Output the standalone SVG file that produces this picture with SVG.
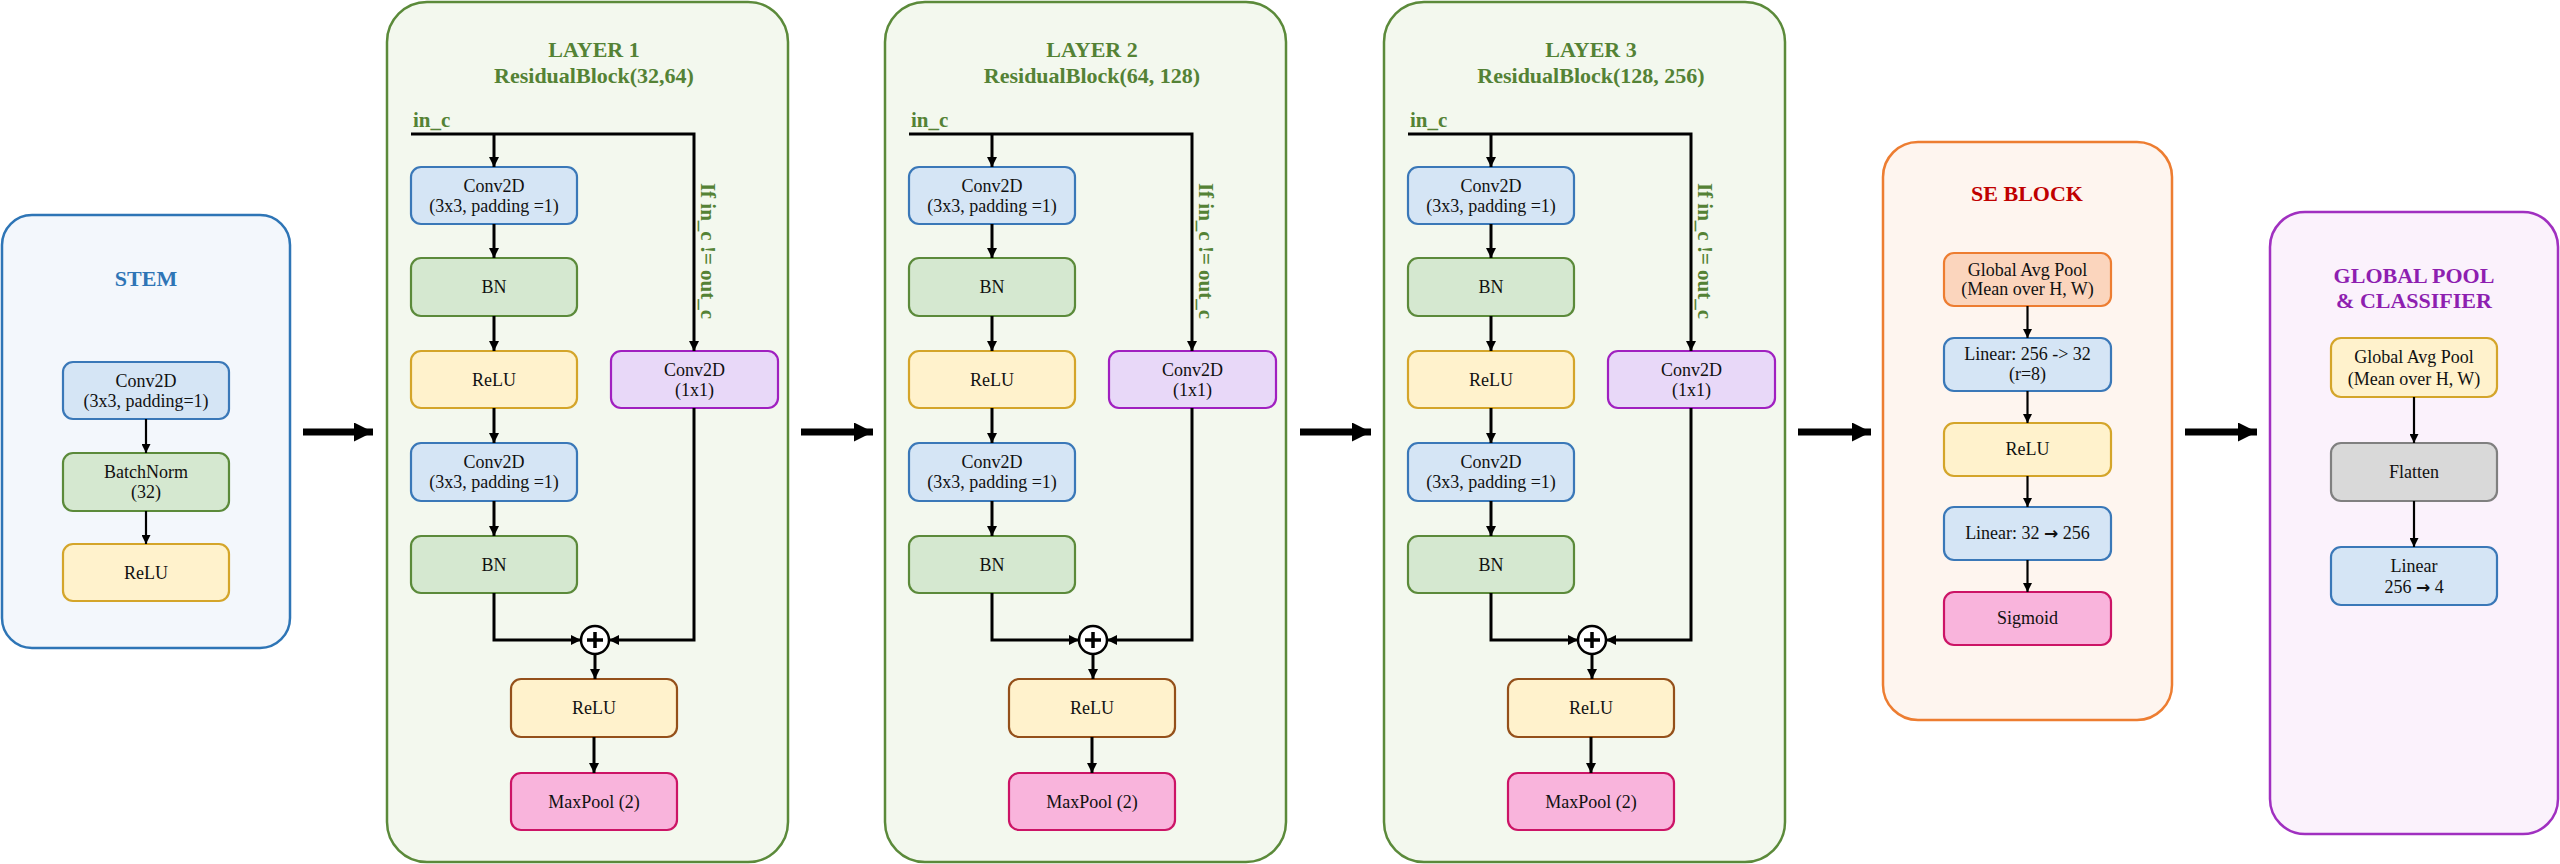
<svg xmlns="http://www.w3.org/2000/svg" width="2560" height="864" viewBox="0 0 2560 864">
<defs>
<marker id="ah" markerUnits="userSpaceOnUse" markerWidth="11" markerHeight="10" refX="10" refY="5" orient="auto"><path d="M0,0 L10,5 L0,10 z" fill="#000"/></marker>
<marker id="ahs" markerUnits="userSpaceOnUse" markerWidth="10" markerHeight="9" refX="9" refY="4.5" orient="auto"><path d="M0,0 L9,4.5 L0,9 z" fill="#000"/></marker>
<marker id="big" markerUnits="userSpaceOnUse" markerWidth="20" markerHeight="20" refX="19" refY="9.5" orient="auto"><path d="M0,0 L19,9.5 L0,19 z" fill="#000"/></marker>
<style>
text{font-family:"Liberation Serif","Times New Roman",serif;text-anchor:middle;fill:#111}
.t{font-size:18px}
.h{font-size:22px;font-weight:bold}
.g{fill:#548235}
.arr{font-family:"DejaVu Sans",sans-serif;font-weight:bold;font-size:17px}
.lay{fill:#F3F8EE;stroke:#5B8A3A;stroke-width:2.5}
.blue{fill:#D5E5F5;stroke:#3A78B8;stroke-width:2.2}
.green{fill:#D5E8D0;stroke:#5B8A3A;stroke-width:2.2}
.yel{fill:#FFF2CC;stroke:#D4A52A;stroke-width:2.2}
.brn{fill:#FFF2CC;stroke:#94501A;stroke-width:2.2}
.pur{fill:#E8D8F8;stroke:#A020C0;stroke-width:2.2}
.pink{fill:#F9B4DC;stroke:#CC1466;stroke-width:2.2}
.org{fill:#FBD5BD;stroke:#ED7D31;stroke-width:2.2}
.gray{fill:#D9D9D9;stroke:#808080;stroke-width:2.2}
.ln{fill:none;stroke:#000;stroke-width:3}
.ls{fill:none;stroke:#000;stroke-width:2.2}
.bg{fill:none;stroke:#000;stroke-width:7}
</style>
</defs>
<rect width="2560" height="864" fill="#fff"/>

<!-- STEM -->
<g id="stem">
<rect x="2" y="215" width="288" height="433" rx="30" fill="#F3F7FC" stroke="#2E75B6" stroke-width="2.5"/>
<text x="146" y="286" class="h" style="fill:#2E75B6">STEM</text>
</g>
<g id="stem-conv"><rect x="63" y="362" width="166" height="57" rx="10" class="blue"/><text x="146" y="387" class="t">Conv2D</text><text x="146" y="407" class="t">(3x3, padding=1)</text></g>
<g id="stem-bn"><rect x="63" y="453" width="166" height="58" rx="10" class="green"/><text x="146" y="478" class="t">BatchNorm</text><text x="146" y="498" class="t">(32)</text></g>
<g id="stem-relu"><rect x="63" y="544" width="166" height="57" rx="10" class="yel"/><text x="146" y="578.5" class="t">ReLU</text></g>

<!-- LAYERS -->
<g id="layer1">
<rect x="387" y="2" width="401" height="860" rx="40" class="lay"/>
<text x="594" y="57" class="h g">LAYER 1</text>
<text x="594" y="83" class="h g">ResidualBlock(32,64)</text>
<text x="413" y="127" class="h g" style="text-anchor:start;font-size:21px">in_c</text>
<text transform="translate(701,251) rotate(90)" class="h g" style="font-size:21px">If in_c != out_c</text>
<g id="l1-conv-a"><rect x="411" y="167" width="166" height="57" rx="10" class="blue"/><text x="494" y="192" class="t">Conv2D</text><text x="494" y="212" class="t">(3x3, padding =1)</text></g>
<g id="l1-bn-a"><rect x="411" y="258" width="166" height="58" rx="10" class="green"/><text x="494" y="293" class="t">BN</text></g>
<g id="l1-relu-a"><rect x="411" y="351" width="166" height="57" rx="10" class="yel"/><text x="494" y="386" class="t">ReLU</text></g>
<g id="l1-conv1x1"><rect x="611" y="351" width="167" height="57" rx="10" class="pur"/><text x="694.5" y="376" class="t">Conv2D</text><text x="694.5" y="396" class="t">(1x1)</text></g>
<g id="l1-conv-b"><rect x="411" y="443" width="166" height="58" rx="10" class="blue"/><text x="494" y="468" class="t">Conv2D</text><text x="494" y="488" class="t">(3x3, padding =1)</text></g>
<g id="l1-bn-b"><rect x="411" y="536" width="166" height="57" rx="10" class="green"/><text x="494" y="570.5" class="t">BN</text></g>
<g id="l1-add"><circle cx="595" cy="640" r="14" fill="#fff" stroke="#000" stroke-width="2.5"/><path d="M587,640 H603 M595,632 V648" stroke="#000" stroke-width="3.5"/></g>
<g id="l1-relu-c"><rect x="511" y="679" width="166" height="58" rx="10" class="brn"/><text x="594" y="714" class="t">ReLU</text></g>
<g id="l1-maxpool"><rect x="511" y="773" width="166" height="57" rx="10" class="pink"/><text x="594" y="808" class="t">MaxPool (2)</text></g>
</g>

<g id="layer2" transform="translate(498,0)">
<rect x="387" y="2" width="401" height="860" rx="40" class="lay"/>
<text x="594" y="57" class="h g">LAYER 2</text>
<text x="594" y="83" class="h g">ResidualBlock(64, 128)</text>
<text x="413" y="127" class="h g" style="text-anchor:start;font-size:21px">in_c</text>
<text transform="translate(701,251) rotate(90)" class="h g" style="font-size:21px">If in_c != out_c</text>
<g id="l2-conv-a"><rect x="411" y="167" width="166" height="57" rx="10" class="blue"/><text x="494" y="192" class="t">Conv2D</text><text x="494" y="212" class="t">(3x3, padding =1)</text></g>
<g id="l2-bn-a"><rect x="411" y="258" width="166" height="58" rx="10" class="green"/><text x="494" y="293" class="t">BN</text></g>
<g id="l2-relu-a"><rect x="411" y="351" width="166" height="57" rx="10" class="yel"/><text x="494" y="386" class="t">ReLU</text></g>
<g id="l2-conv1x1"><rect x="611" y="351" width="167" height="57" rx="10" class="pur"/><text x="694.5" y="376" class="t">Conv2D</text><text x="694.5" y="396" class="t">(1x1)</text></g>
<g id="l2-conv-b"><rect x="411" y="443" width="166" height="58" rx="10" class="blue"/><text x="494" y="468" class="t">Conv2D</text><text x="494" y="488" class="t">(3x3, padding =1)</text></g>
<g id="l2-bn-b"><rect x="411" y="536" width="166" height="57" rx="10" class="green"/><text x="494" y="570.5" class="t">BN</text></g>
<g id="l2-add"><circle cx="595" cy="640" r="14" fill="#fff" stroke="#000" stroke-width="2.5"/><path d="M587,640 H603 M595,632 V648" stroke="#000" stroke-width="3.5"/></g>
<g id="l2-relu-c"><rect x="511" y="679" width="166" height="58" rx="10" class="brn"/><text x="594" y="714" class="t">ReLU</text></g>
<g id="l2-maxpool"><rect x="511" y="773" width="166" height="57" rx="10" class="pink"/><text x="594" y="808" class="t">MaxPool (2)</text></g>
</g>

<g id="layer3" transform="translate(997,0)">
<rect x="387" y="2" width="401" height="860" rx="40" class="lay"/>
<text x="594" y="57" class="h g">LAYER 3</text>
<text x="594" y="83" class="h g">ResidualBlock(128, 256)</text>
<text x="413" y="127" class="h g" style="text-anchor:start;font-size:21px">in_c</text>
<text transform="translate(701,251) rotate(90)" class="h g" style="font-size:21px">If in_c != out_c</text>
<g id="l3-conv-a"><rect x="411" y="167" width="166" height="57" rx="10" class="blue"/><text x="494" y="192" class="t">Conv2D</text><text x="494" y="212" class="t">(3x3, padding =1)</text></g>
<g id="l3-bn-a"><rect x="411" y="258" width="166" height="58" rx="10" class="green"/><text x="494" y="293" class="t">BN</text></g>
<g id="l3-relu-a"><rect x="411" y="351" width="166" height="57" rx="10" class="yel"/><text x="494" y="386" class="t">ReLU</text></g>
<g id="l3-conv1x1"><rect x="611" y="351" width="167" height="57" rx="10" class="pur"/><text x="694.5" y="376" class="t">Conv2D</text><text x="694.5" y="396" class="t">(1x1)</text></g>
<g id="l3-conv-b"><rect x="411" y="443" width="166" height="58" rx="10" class="blue"/><text x="494" y="468" class="t">Conv2D</text><text x="494" y="488" class="t">(3x3, padding =1)</text></g>
<g id="l3-bn-b"><rect x="411" y="536" width="166" height="57" rx="10" class="green"/><text x="494" y="570.5" class="t">BN</text></g>
<g id="l3-add"><circle cx="595" cy="640" r="14" fill="#fff" stroke="#000" stroke-width="2.5"/><path d="M587,640 H603 M595,632 V648" stroke="#000" stroke-width="3.5"/></g>
<g id="l3-relu-c"><rect x="511" y="679" width="166" height="58" rx="10" class="brn"/><text x="594" y="714" class="t">ReLU</text></g>
<g id="l3-maxpool"><rect x="511" y="773" width="166" height="57" rx="10" class="pink"/><text x="594" y="808" class="t">MaxPool (2)</text></g>
</g>

<!-- SE BLOCK -->
<g id="se">
<rect x="1883" y="142" width="289" height="578" rx="35" fill="#FEF5EF" stroke="#ED7D31" stroke-width="2.5"/>
<text x="2027" y="201" class="h" style="fill:#C00000">SE BLOCK</text>
</g>
<g id="se-gap"><rect x="1944" y="253" width="167" height="53" rx="10" class="org"/><text x="2027.5" y="276" class="t">Global Avg Pool</text><text x="2027.5" y="295" class="t">(Mean over H, W)</text></g>
<g id="se-lin1"><rect x="1944" y="338" width="167" height="53" rx="10" class="blue"/><text x="2027.5" y="360" class="t">Linear: 256 -&gt; 32</text><text x="2027.5" y="380" class="t">(r=8)</text></g>
<g id="se-relu"><rect x="1944" y="423" width="167" height="53" rx="10" class="yel"/><text x="2027.5" y="454.5" class="t">ReLU</text></g>
<g id="se-lin2"><rect x="1944" y="507" width="167" height="53" rx="10" class="blue"/><text x="2027.5" y="539" class="t">Linear: 32 <tspan class="arr">→</tspan> 256</text></g>
<g id="se-sig"><rect x="1944" y="592" width="167" height="53" rx="10" class="pink"/><text x="2027.5" y="624" class="t">Sigmoid</text></g>

<!-- GLOBAL POOL & CLASSIFIER -->
<g id="gp">
<rect x="2270" y="212" width="288" height="622" rx="35" fill="#FBF2FC" stroke="#A030C0" stroke-width="2.5"/>
<text x="2414" y="283" class="h" style="fill:#8E1FB0">GLOBAL POOL</text>
<text x="2414" y="308" class="h" style="fill:#8E1FB0">&amp; CLASSIFIER</text>
</g>
<g id="gp-gap"><rect x="2331" y="338" width="166" height="59" rx="10" class="yel"/><text x="2414" y="363" class="t">Global Avg Pool</text><text x="2414" y="385" class="t">(Mean over H, W)</text></g>
<g id="gp-flat"><rect x="2331" y="443" width="166" height="58" rx="10" class="gray"/><text x="2414" y="478" class="t">Flatten</text></g>
<g id="gp-lin"><rect x="2331" y="547" width="166" height="58" rx="10" class="blue"/><text x="2414" y="572" class="t">Linear</text><text x="2414" y="593" class="t">256 <tspan class="arr">→</tspan> 4</text></g>

<!-- CONNECTORS -->
<g id="connectors">
<g id="c-stem">
<path d="M146,419 V453" class="ls" marker-end="url(#ahs)"/>
<path d="M146,511 V544" class="ls" marker-end="url(#ahs)"/>
</g>
<g id="c-l1">
<path d="M411,134 H694 V351" class="ln" marker-end="url(#ah)"/>
<path d="M494,134 V167" class="ln" marker-end="url(#ah)"/>
<path d="M494,224 V258" class="ln" marker-end="url(#ah)"/>
<path d="M494,316 V351" class="ln" marker-end="url(#ah)"/>
<path d="M494,408 V443" class="ln" marker-end="url(#ah)"/>
<path d="M494,501 V536" class="ln" marker-end="url(#ah)"/>
<path d="M494,593 V640 H581" class="ln" marker-end="url(#ah)"/>
<path d="M694,408 V640 H609" class="ln" marker-end="url(#ah)"/>
<path d="M595,654 V679" class="ln" marker-end="url(#ah)"/>
<path d="M594,737 V773" class="ln" marker-end="url(#ah)"/>
</g>
<g id="c-l2" transform="translate(498,0)">
<path d="M411,134 H694 V351" class="ln" marker-end="url(#ah)"/>
<path d="M494,134 V167" class="ln" marker-end="url(#ah)"/>
<path d="M494,224 V258" class="ln" marker-end="url(#ah)"/>
<path d="M494,316 V351" class="ln" marker-end="url(#ah)"/>
<path d="M494,408 V443" class="ln" marker-end="url(#ah)"/>
<path d="M494,501 V536" class="ln" marker-end="url(#ah)"/>
<path d="M494,593 V640 H581" class="ln" marker-end="url(#ah)"/>
<path d="M694,408 V640 H609" class="ln" marker-end="url(#ah)"/>
<path d="M595,654 V679" class="ln" marker-end="url(#ah)"/>
<path d="M594,737 V773" class="ln" marker-end="url(#ah)"/>
</g>
<g id="c-l3" transform="translate(997,0)">
<path d="M411,134 H694 V351" class="ln" marker-end="url(#ah)"/>
<path d="M494,134 V167" class="ln" marker-end="url(#ah)"/>
<path d="M494,224 V258" class="ln" marker-end="url(#ah)"/>
<path d="M494,316 V351" class="ln" marker-end="url(#ah)"/>
<path d="M494,408 V443" class="ln" marker-end="url(#ah)"/>
<path d="M494,501 V536" class="ln" marker-end="url(#ah)"/>
<path d="M494,593 V640 H581" class="ln" marker-end="url(#ah)"/>
<path d="M694,408 V640 H609" class="ln" marker-end="url(#ah)"/>
<path d="M595,654 V679" class="ln" marker-end="url(#ah)"/>
<path d="M594,737 V773" class="ln" marker-end="url(#ah)"/>
</g>
<g id="c-se">
<path d="M2027.5,306 V338" class="ls" marker-end="url(#ahs)"/>
<path d="M2027.5,391 V423" class="ls" marker-end="url(#ahs)"/>
<path d="M2027.5,476 V507" class="ls" marker-end="url(#ahs)"/>
<path d="M2027.5,560 V592" class="ls" marker-end="url(#ahs)"/>
</g>
<g id="c-gp">
<path d="M2414,397 V443" class="ls" marker-end="url(#ahs)"/>
<path d="M2414,501 V547" class="ls" marker-end="url(#ahs)"/>
</g>
<g id="c-main">
<path d="M303,432 H373" class="bg" marker-end="url(#big)"/>
<path d="M801,432 H873" class="bg" marker-end="url(#big)"/>
<path d="M1300,432 H1371" class="bg" marker-end="url(#big)"/>
<path d="M1798,432 H1871" class="bg" marker-end="url(#big)"/>
<path d="M2185,432 H2257" class="bg" marker-end="url(#big)"/>
</g>
</g>
</svg>
